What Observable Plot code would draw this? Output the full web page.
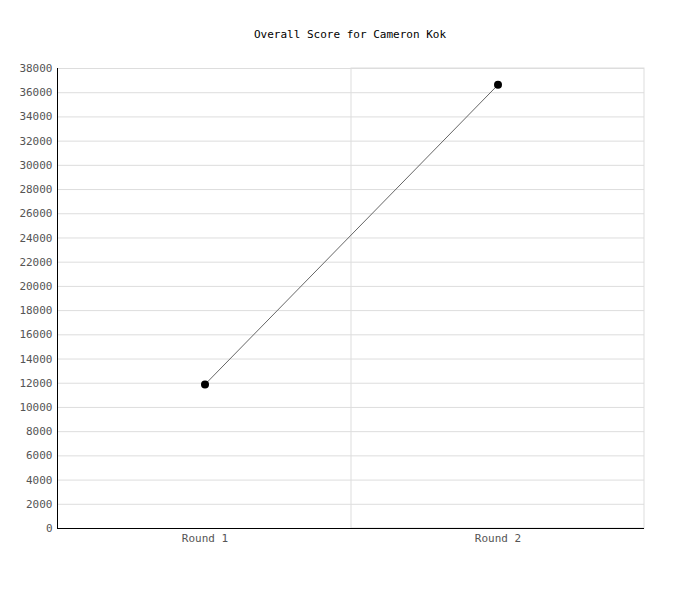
<!DOCTYPE html>
<html><head><meta charset="utf-8">
<script src="https://cdn.jsdelivr.net/npm/d3@7"></script>
<script src="https://cdn.jsdelivr.net/npm/@observablehq/plot@0.6"></script>
<style>
body{margin:0;background:#fff;}
#wrap{position:relative;width:700px;height:600px;}
#title{position:absolute;left:0;top:28px;width:700px;text-align:center;font-family:"DejaVu Sans Mono",monospace;font-size:11px;color:#000;}
</style></head>
<body><div id="wrap"><div id="title">Overall Score for Cameron Kok</div></div>
<script>
const rounds = ["Round 1", "Round 2"];
const scores = [11900, 36650];
const yTicks = [0,2000,4000,6000,8000,10000,12000,14000,16000,18000,20000,22000,24000,26000,28000,30000,32000,34000,36000,38000];
const data = rounds.map((r, i) => ({round: r, score: scores[i]}));

const chart = Plot.plot({
  width: 700, height: 600,
  marginLeft: 57, marginRight: 56, marginTop: 68, marginBottom: 72,
  style: {fontFamily: "DejaVu Sans Mono, monospace", fontSize: "11px", color: "#555", background: "#fff"},
  x: {type: "band", domain: rounds, padding: 0, label: null},
  y: {domain: [0, 38000], label: null},
  marks: [
    Plot.gridY(yTicks, {stroke: "#ddd", strokeOpacity: 1}),
    Plot.cell(rounds.slice(1), {x: d => d, stroke: "#ddd", fill: "none", inset: 0}),
    Plot.axisY(yTicks, {tickSize: 0, tickPadding: 5, tickFormat: d => String(d), fill: "#555"}),
    Plot.axisX({tickSize: 0, tickPadding: 6, fill: "#555"}),
    Plot.ruleY([0], {stroke: "#000"}),
    Plot.frame({anchor: "left", stroke: "#000"}),
    Plot.line(data, {x: "round", y: "score", stroke: "#666", strokeWidth: 1}),
    Plot.dot(data, {x: "round", y: "score", r: 4, fill: "#000"})
  ]
});
document.getElementById("wrap").appendChild(chart);
</script></body></html>
